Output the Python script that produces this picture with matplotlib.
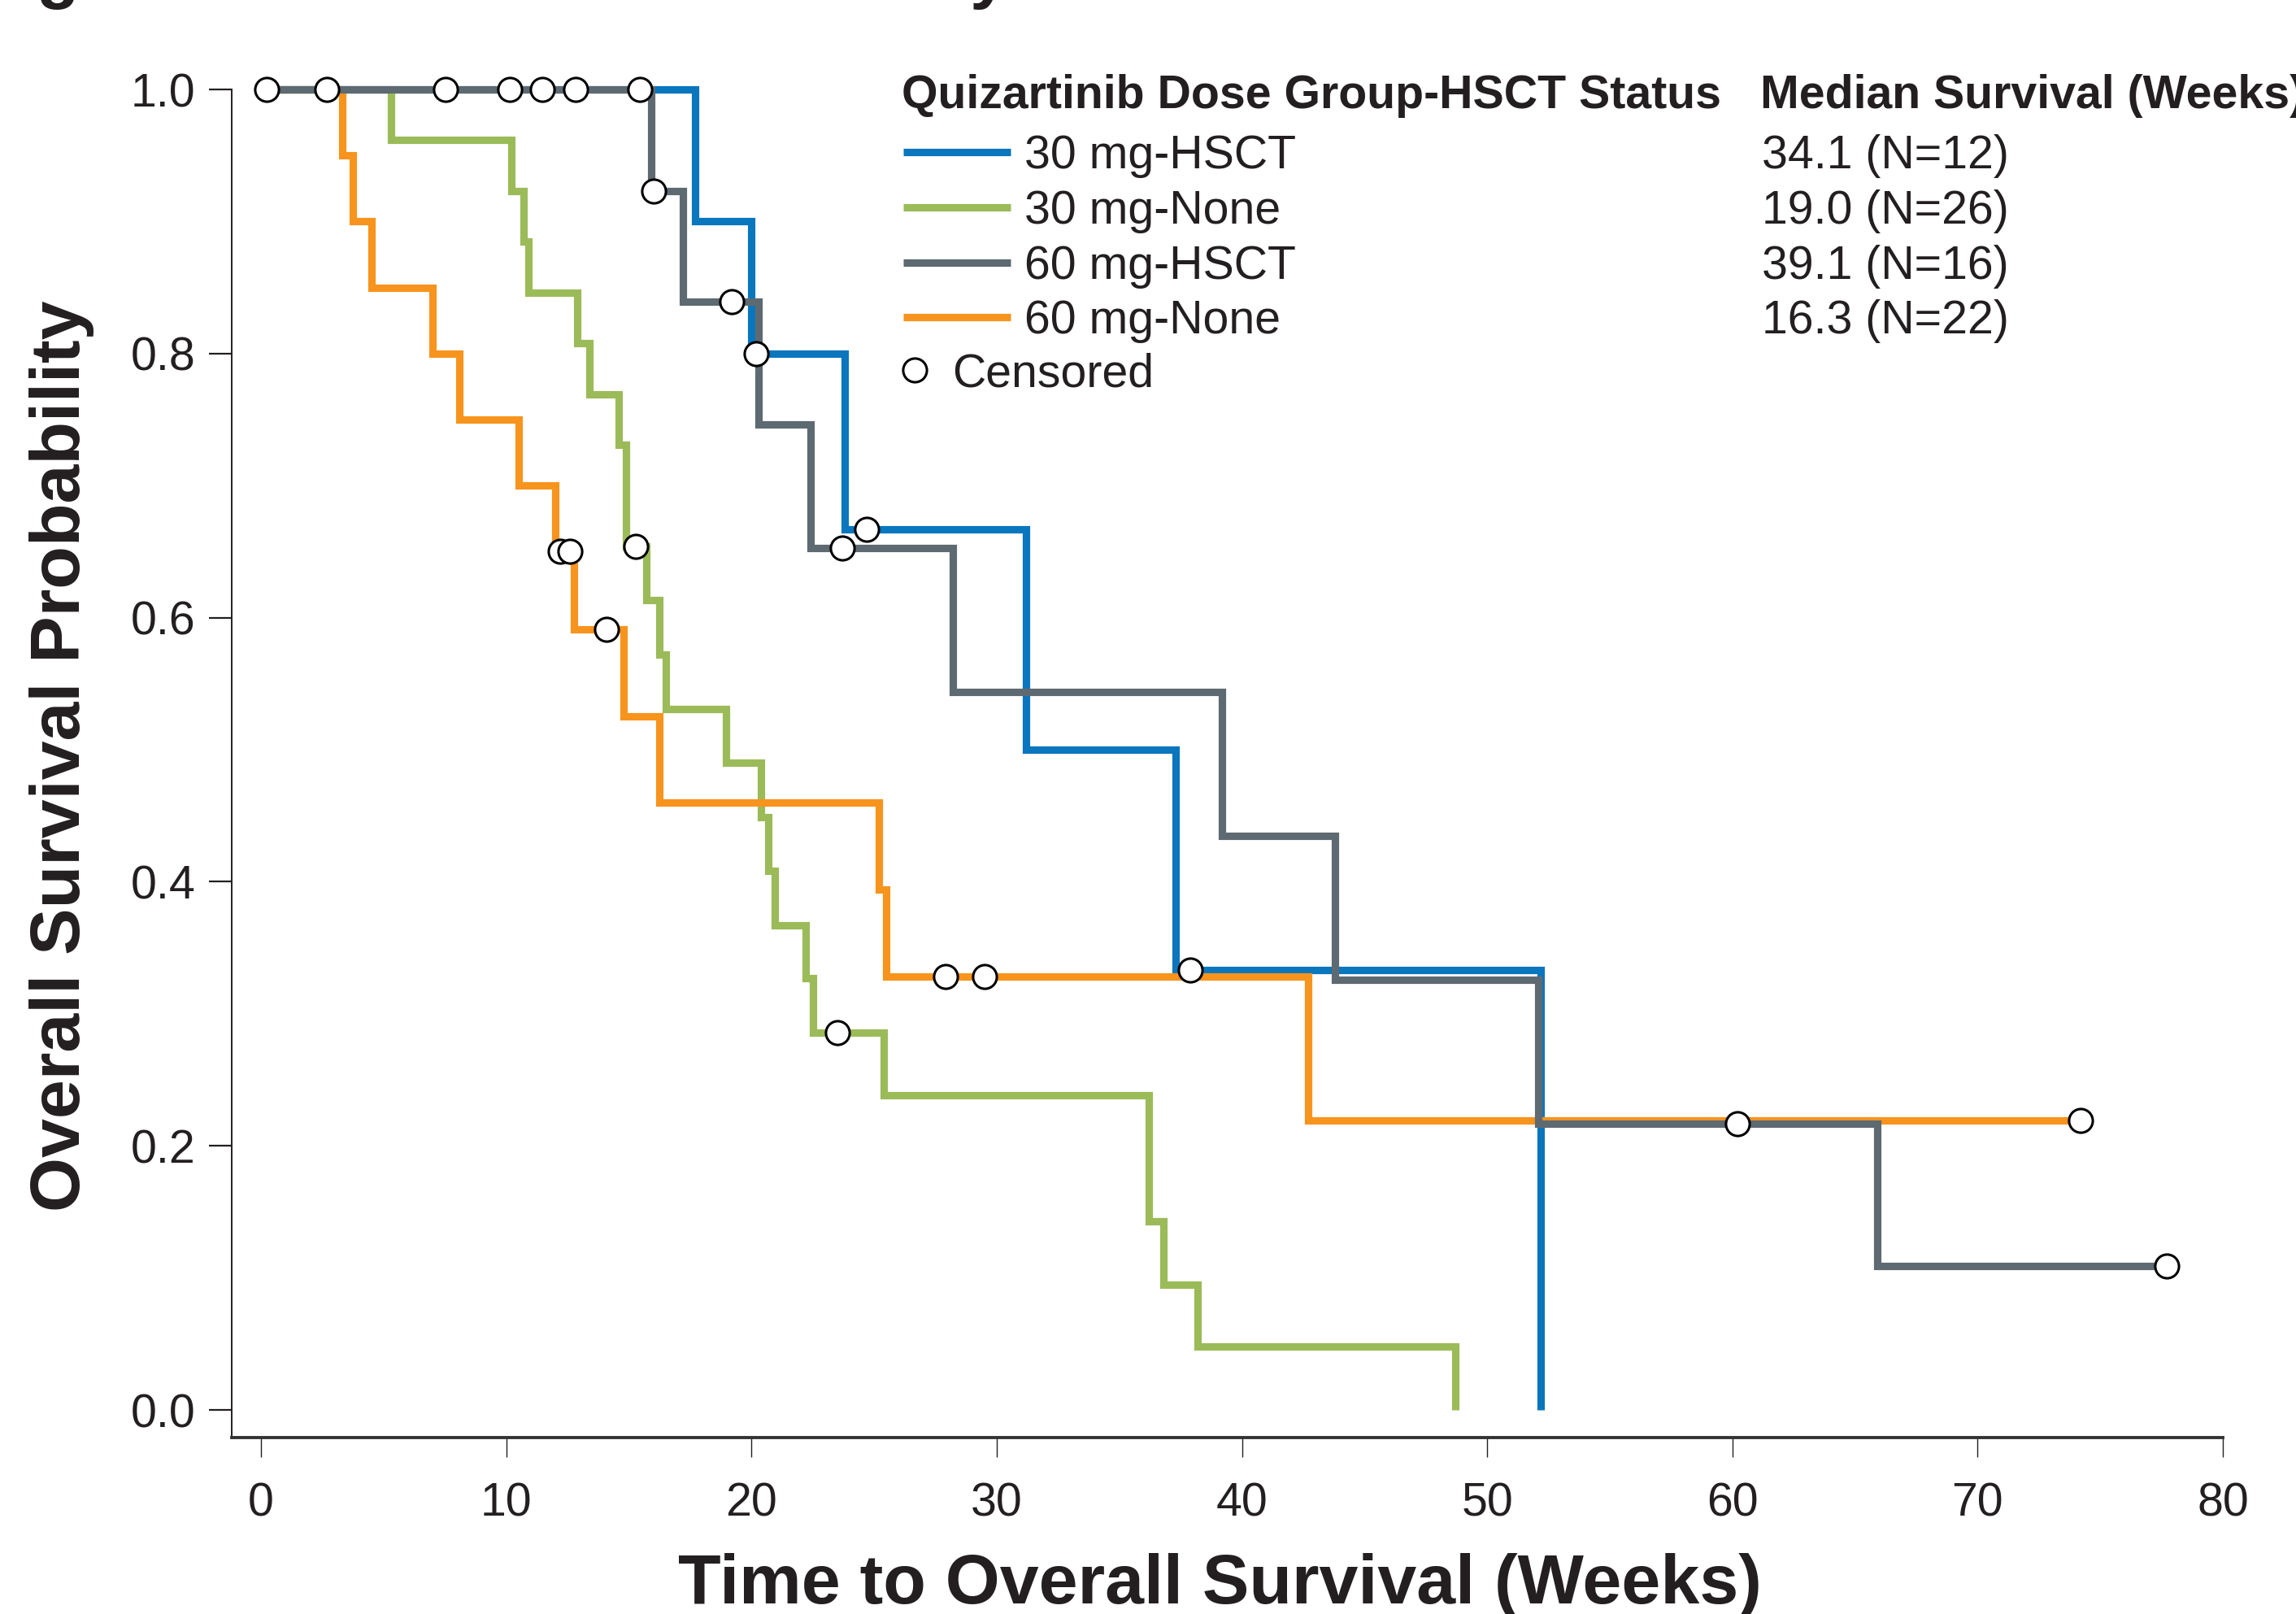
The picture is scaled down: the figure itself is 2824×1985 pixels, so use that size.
import numpy as np
import matplotlib
matplotlib.use("Agg")
import matplotlib.pyplot as plt
from matplotlib.lines import Line2D

plt.rcParams['font.family'] = ['Liberation Sans', 'DejaVu Sans']

# ---------------- data ----------------
groups = ["30 mg-HSCT", "30 mg-None", "60 mg-HSCT", "60 mg-None"]
medians = ["34.1 (N=12)", "19.0 (N=26)", "39.1 (N=16)", "16.3 (N=22)"]
colors = ["#0a76bd", "#9bbb59", "#5e6a71", "#f7941d"]

t_30_hsct = [17.7, 20.0, 23.8, 31.2, 37.3, 52.2]
s_30_hsct = [0.900, 0.800, 0.667, 0.500, 0.333, 0.0]
c_30_hsct = [10.15, 12.84, 20.2, 24.7, 37.9]

t_30_none = [5.3, 10.2, 10.7, 10.9, 12.9, 13.4, 14.6, 14.9, 15.7, 16.25, 16.5,
             18.97, 20.4, 20.7, 20.96, 22.2, 22.5, 25.4, 36.2, 36.8, 38.2, 48.7]
s_30_none = [0.962, 0.923, 0.885, 0.846, 0.808, 0.769, 0.731, 0.654, 0.613, 0.572,
             0.531, 0.490, 0.449, 0.408, 0.367, 0.327, 0.286, 0.238, 0.143, 0.095,
             0.048, 0.0]
c_30_none = [15.3, 23.5]

t_60_hsct = [15.9, 17.2, 20.3, 22.4, 28.2, 39.2, 43.8, 52.1, 65.9]
s_60_hsct = [0.923, 0.839, 0.746, 0.653, 0.544, 0.435, 0.326, 0.217, 0.109]
c_60_hsct = [7.52, 11.46, 15.46, 16.0, 19.2, 23.7, 60.2, 77.7]

t_60_none = [3.3, 3.75, 4.5, 7.0, 8.1, 10.5, 12.0, 12.75, 14.8, 16.25, 25.2, 25.5, 42.7]
s_60_none = [0.95, 0.90, 0.85, 0.80, 0.75, 0.70, 0.65, 0.591, 0.525, 0.460, 0.394,
             0.328, 0.219]
c_60_none = [0.24, 2.69, 12.2, 12.6, 14.1, 27.9, 29.5, 74.2]

series = [(t_30_hsct, s_30_hsct, c_30_hsct),
          (t_30_none, s_30_none, c_30_none),
          (t_60_hsct, s_60_hsct, c_60_hsct),
          (t_60_none, s_60_none, c_60_none)]

xticks = [0, 10, 20, 30, 40, 50, 60, 70, 80]
yticks = [0.0, 0.2, 0.4, 0.6, 0.8, 1.0]

# ---------------- figure ----------------
W, H = 2824, 1985
DPI = 200
fig = plt.figure(figsize=(W / DPI, H / DPI), dpi=DPI)
TXT = "#231f20"

def fx(px):
    return px / W

def fy(py):
    return 1 - py / H

ax_left, ax_right, ax_bottom, ax_top = 285, 2734, 1768, 77.5
ax = fig.add_axes([fx(ax_left), fy(ax_bottom), (ax_right - ax_left) / W,
                   (ax_bottom - ax_top) / H])
ybot = -34 / 1624
ytop = 1 + 32.5 / 1624
xl = -36 / 30.16
ax.set_xlim(xl, 80)
ax.set_ylim(ybot, ytop)

LW = 3.3
zorders = [2, 3, 5, 4]
for (t, s, c), col, z in zip(series, colors, zorders):
    t = np.asarray(t, float)
    s = np.asarray(s, float)
    xs = np.concatenate([[0.0], t])
    ys = np.concatenate([[1.0], s])
    cens = np.asarray(c, float)
    if s[-1] > 0 and len(cens) and cens.max() > t[-1]:
        xs = np.append(xs, cens.max())
        ys = np.append(ys, s[-1])
    ax.step(xs, ys, where='post', color=col, lw=LW, zorder=z,
            solid_joinstyle='miter', solid_capstyle='butt')
    # survival at censor times
    idx = np.searchsorted(t, cens, side='right')
    cy = np.where(idx == 0, 1.0, s[np.maximum(idx - 1, 0)])
    ax.plot(cens, cy, linestyle='none', marker='o', markersize=10.5,
            markerfacecolor='white', markeredgecolor='black',
            markeredgewidth=1.1, zorder=10, clip_on=False)

# spines
for sp in ['top', 'right']:
    ax.spines[sp].set_visible(False)
ax.spines['left'].set_bounds(ybot, 1.0)
ax.spines['left'].set_linewidth(0.7)
ax.spines['left'].set_color(TXT)
ax.spines['bottom'].set_bounds(xl, 80)
ax.spines['bottom'].set_linewidth(1.4)
ax.spines['bottom'].set_color("#333333")

ax.set_xticks(xticks)
ax.set_xticklabels([str(v) for v in xticks])
ax.set_yticks(yticks)
ax.set_yticklabels([f"{v:.1f}" for v in yticks])
ax.tick_params(axis='x', direction='out', length=8.6, width=0.5, pad=11,
               labelsize=20.6, colors=TXT)
ax.tick_params(axis='y', direction='out', length=10, width=0.8, pad=6,
               labelsize=20.6, colors=TXT)

# axis labels
fig.text(fx(1500), fy(1972), "Time to Overall Survival (Weeks)", ha='center',
         va='baseline', fontsize=31, fontweight='bold', color=TXT)
fig.text(fx(76), fy(930), "Overall Survival Probability", ha='center',
         va='center', rotation=90, fontsize=31, fontweight='bold', color=TXT)

# title fragments cut off at the top edge
fig.text(fx(45), fy(-6), "g", ha='left', va='baseline', fontsize=31,
         fontweight='bold', color=TXT)
fig.text(fx(1192), fy(-6), "y", ha='left', va='baseline', fontsize=31,
         fontweight='bold', color=TXT)

# legend block (manual, mirrors reference layout)
FS = 20.6
fig.text(fx(1109), fy(133), "Quizartinib Dose Group-HSCT Status", ha='left',
         va='baseline', fontsize=FS, fontweight='bold', color=TXT)
fig.text(fx(2165), fy(133), "Median Survival (Weeks)", ha='left',
         va='baseline', fontsize=FS, fontweight='bold', color=TXT)
row_base = [207, 275, 343, 410]
for g, m, col, yb in zip(groups, medians, colors, row_base):
    yl = yb - 20
    fig.add_artist(Line2D([fx(1111), fx(1243)], [fy(yl), fy(yl)],
                          transform=fig.transFigure, color=col, lw=LW,
                          solid_capstyle='butt'))
    fig.text(fx(1260), fy(yb), g, ha='left', va='baseline', fontsize=FS, color=TXT)
    fig.text(fx(2167), fy(yb), m, ha='left', va='baseline', fontsize=FS, color=TXT)
fig.add_artist(Line2D([fx(1125)], [fy(455)], transform=fig.transFigure,
                      linestyle='none', marker='o', markersize=10.5,
                      markerfacecolor='white', markeredgecolor='black',
                      markeredgewidth=1.1))
fig.text(fx(1171), fy(475), "Censored", ha='left', va='baseline', fontsize=FS,
         color=TXT)

fig.savefig("out.png", dpi=DPI, facecolor='white')
